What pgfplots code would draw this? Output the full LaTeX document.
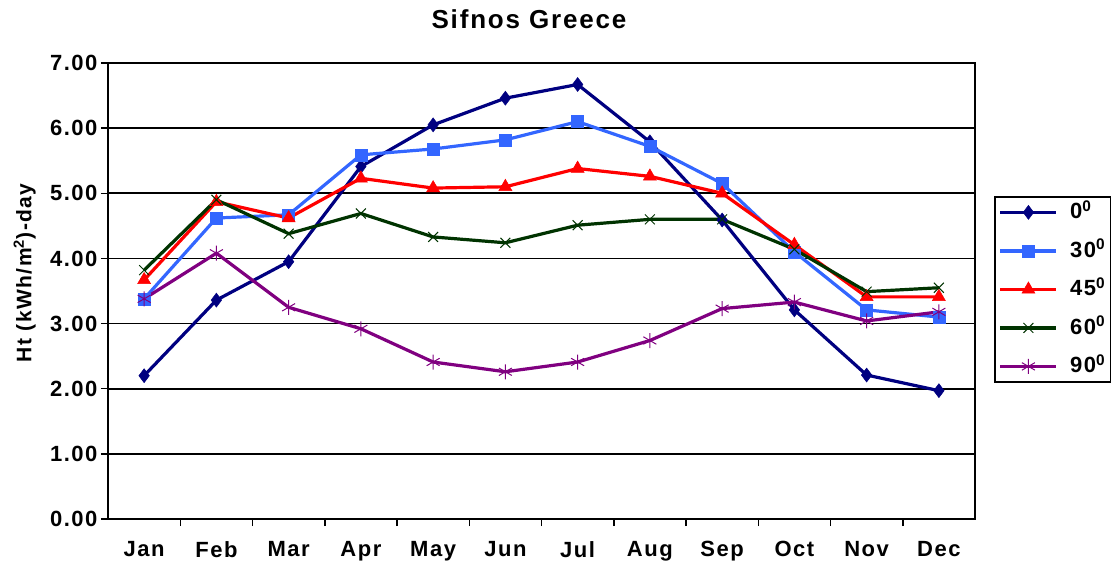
\documentclass[border=0pt]{standalone}
\usepackage{fontspec}
\setmainfont{Liberation Sans}[LetterSpace=7]
\usepackage{pgfplots}
\pgfplotsset{compat=1.18}
\definecolor{cA}{RGB}{0,0,128}
\definecolor{cB}{RGB}{51,102,255}
\definecolor{cC}{RGB}{255,0,0}
\definecolor{cD}{RGB}{0,51,0}
\definecolor{cE}{RGB}{128,0,128}
\begin{document}
\begin{tikzpicture}
\useasboundingbox (0,0) rectangle (1111pt,566pt);
\begin{axis}[
  at={(108pt,47pt)}, anchor=south west,
  width=867pt, height=456pt, scale only axis,
  xmin=0.5, xmax=12.5, ymin=0, ymax=7,
  axis line style={black, line width=1.6pt},
  xtick={1.5,2.5,...,11.5},
  xticklabels={},
  extra x ticks={1,2,...,12},
  extra x tick labels={Jan,Feb,Mar,Apr,May,Jun,Jul,Aug,Sep,Oct,Nov,Dec},
  extra x tick style={major tick length=0pt, grid=none},
  ytick={0,1,...,7},
  ymajorgrids, grid style={black, line width=1.6pt},
  tick align=outside, major tick length=7pt,
  tick style={black, line width=1.5pt},
  xtick pos=bottom, ytick pos=left,
  tick label style={font=\fontsize{22}{22}\selectfont\bfseries},
  xticklabel style={yshift=-19pt},
  yticklabel style={/pgf/number format/.cd, fixed, fixed zerofill, precision=2, assume math mode=true},
  title={Sifnos Greece},
  title style={font=\fontsize{26}{26}\selectfont\bfseries, at={(axis description cs:0.4856,1.083)}, anchor=center},
  ylabel={Ht (kWh/m\textsuperscript{2})-day},
  ylabel style={font=\fontsize{21}{21}\selectfont\bfseries, at={(axis description cs:-0.096,0.54)}, anchor=center, rotate=0},
  legend style={at={(axis description cs:1.022,0.708)}, anchor=north west, draw=black, line width=1.5pt,
    font=\fontsize{22}{22}\selectfont\bfseries, row sep=15.5pt, inner sep=4pt,
    nodes={inner sep=2pt, text height=16pt, text depth=3pt}},
  legend cell align=left,
  legend image code/.code={\draw[mark repeat=2,mark phase=2] plot coordinates {(4pt,0pt) (32pt,0pt) (60pt,0pt)}; \path (70pt,0pt);},
]
\addplot[cA, line width=3.2pt, mark=diamond*, mark size=7pt, mark options={solid, line width=0.5pt}] coordinates {
(1,2.20) (2,3.36) (3,3.95) (4,5.41) (5,6.05) (6,6.46) (7,6.67) (8,5.79) (9,4.59) (10,3.21) (11,2.21) (12,1.97)};
\addlegendentry{0\textsuperscript{0}}
\addplot[cB, line width=3.2pt, mark=square*, mark size=6pt, mark options={solid, line width=0.5pt}] coordinates {
(1,3.38) (2,4.62) (3,4.67) (4,5.59) (5,5.68) (6,5.82) (7,6.10) (8,5.72) (9,5.15) (10,4.10) (11,3.21) (12,3.10)};
\addlegendentry{30\textsuperscript{0}}
\addplot[cC, line width=3.2pt, mark=triangle*, mark size=7.5pt, mark options={solid, line width=0.5pt}] coordinates {
(1,3.67) (2,4.87) (3,4.62) (4,5.23) (5,5.08) (6,5.10) (7,5.38) (8,5.26) (9,5.00) (10,4.21) (11,3.41) (12,3.41)};
\addlegendentry{45\textsuperscript{0}}
\addplot[cD, line width=3.2pt, mark=x, mark size=7pt, mark options={solid, line width=1pt}] coordinates {
(1,3.82) (2,4.90) (3,4.38) (4,4.69) (5,4.33) (6,4.24) (7,4.51) (8,4.60) (9,4.60) (10,4.14) (11,3.49) (12,3.55)};
\addlegendentry{60\textsuperscript{0}}
\addplot[cE, line width=3.2pt, mark=asterisk, mark size=7.5pt, mark options={solid, line width=1pt}] coordinates {
(1,3.38) (2,4.08) (3,3.25) (4,2.92) (5,2.41) (6,2.26) (7,2.41) (8,2.74) (9,3.23) (10,3.33) (11,3.04) (12,3.18)};
\addlegendentry{90\textsuperscript{0}}
\end{axis}
\end{tikzpicture}
\end{document}
